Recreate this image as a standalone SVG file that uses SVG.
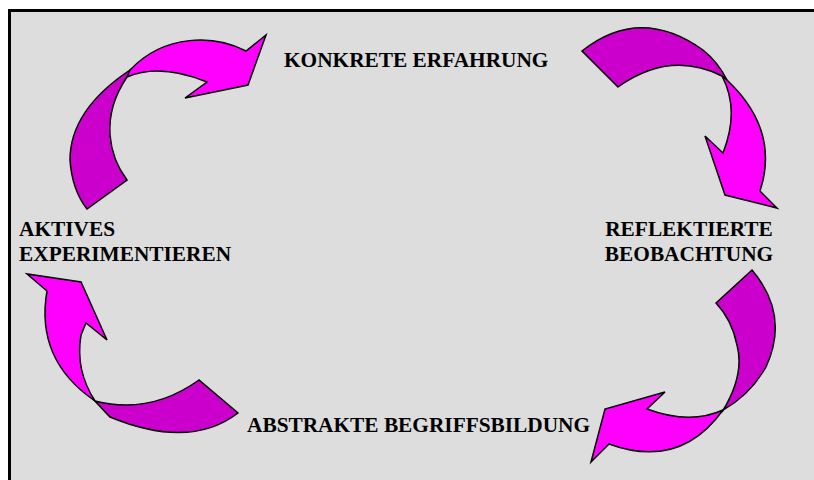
<svg xmlns="http://www.w3.org/2000/svg" width="814" height="480" viewBox="0 0 814 480">
<style>
.bg{fill:#dddddd;stroke:#000;stroke-width:3}
.lt{fill:#ff00ff;stroke:#000;stroke-width:1.5;stroke-linejoin:miter}
.dk{fill:#cc00cc;stroke:#000;stroke-width:1.5;stroke-linejoin:miter}
.lbl{font-family:"Liberation Serif","Times New Roman",serif;font-weight:bold;font-size:21.33px;fill:#000}
</style>
<rect class="bg" x="9.5" y="10.5" width="810" height="480"/>
<g id="connectors">
<g id="arrow-top-left">
<path class="dk" d="M87,209 Q72,190 70,160 Q70,110 130,70 L127,77 Q108,105 110,135 Q112,160 127,180 Z"/>
<path class="lt" d="M127,77 Q160,63 207,82 L185,98 L248,85 L266,35 L246,51 C215,35 165,33 130,70 Z"/>
</g>
<g id="arrow-top-right">
<path class="dk" d="M582,51 Q640,5 703,50 Q718,62 727,80 L722,76 Q670,50 618,87 Z"/>
<path class="lt" d="M722,76 Q740,110 723,153 L705,136 L725,195 L777,208 L760,191 Q780,130 727,80 Z"/>
</g>
<g id="arrow-bottom-right">
<path class="dk" d="M752,270 Q790,315 766,367 Q750,395 723,410 L722,412 Q745,375 737,345 Q732,320 716,303 Z"/>
<path class="lt" d="M723,410 Q690,425 647,409 L665,392 L605,409 L591,462 L609,444 Q680,470 723,410 Z"/>
</g>
<g id="arrow-bottom-left">
<path class="lt" d="M95,401 Q75,370 81,335 L86,323 L107,340 L81,282 L27,274 L47,291 Q35,360 95,401 Z"/>
<path class="dk" d="M95,401 Q150,415 199,380 L238,413 Q190,450 110,417 Z"/>
</g>
</g>
<g id="node-konkrete"><text class="lbl" x="284" y="67">KONKRETE ERFAHRUNG</text></g>
<g id="node-reflektierte"><text class="lbl" x="689" y="236" text-anchor="middle">REFLEKTIERTE</text><text class="lbl" x="689" y="261" text-anchor="middle">BEOBACHTUNG</text></g>
<g id="node-abstrakte"><text class="lbl" x="247" y="432">ABSTRAKTE BEGRIFFSBILDUNG</text></g>
<g id="node-aktives"><text class="lbl" x="19" y="236">AKTIVES</text><text class="lbl" x="19" y="261">EXPERIMENTIEREN</text></g>
</svg>
